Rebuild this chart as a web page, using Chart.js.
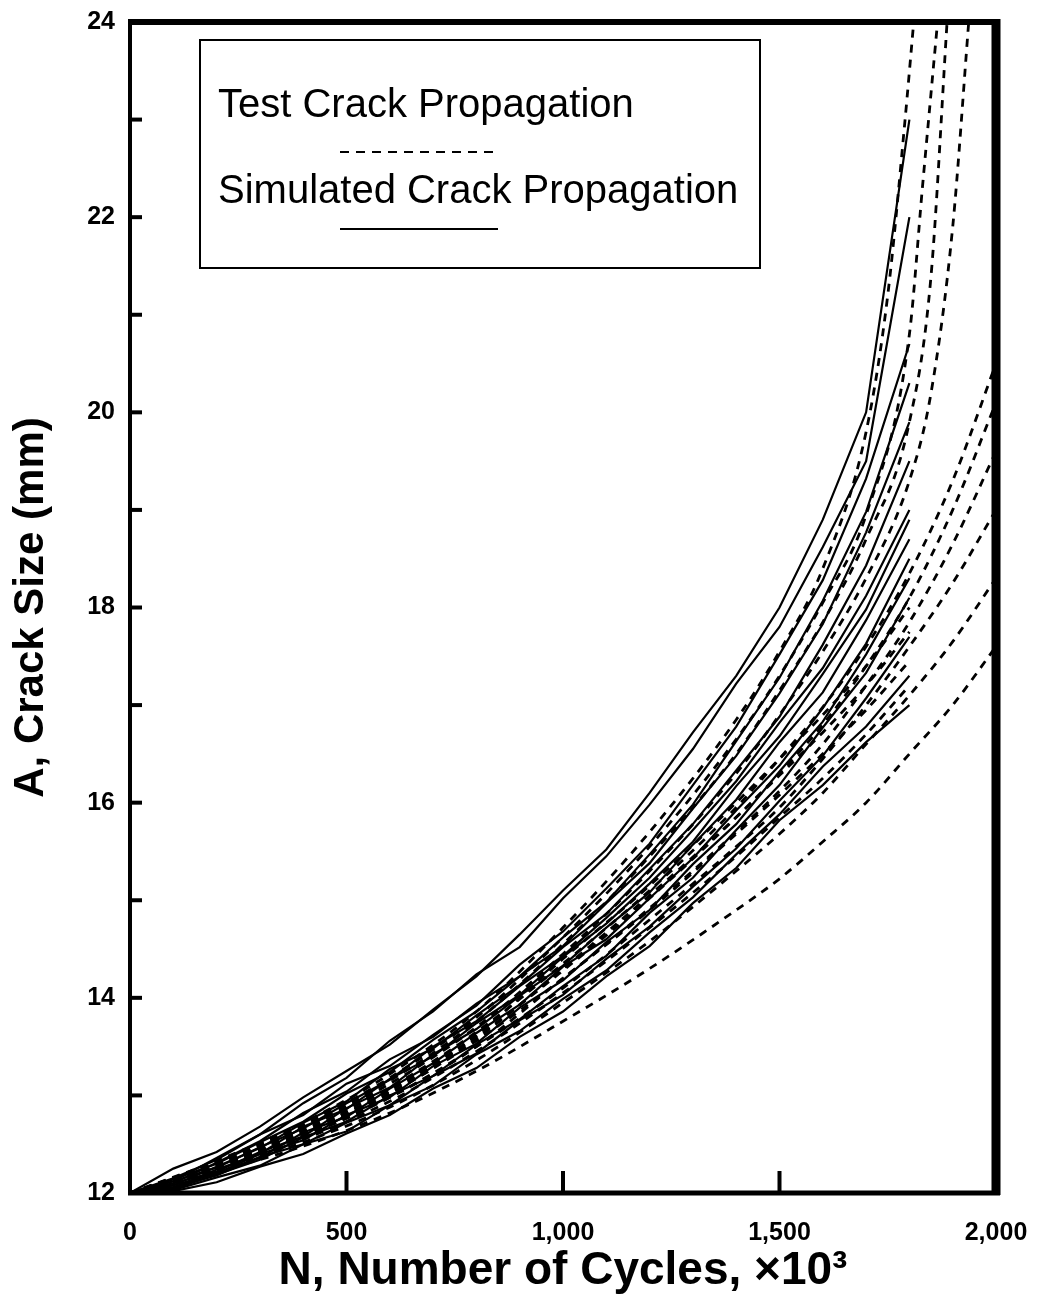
<!DOCTYPE html>
<html>
<head>
<meta charset="utf-8">
<script src="https://cdn.jsdelivr.net/npm/chart.js@4.4.1/dist/chart.umd.min.js"></script>
<style>
  html, body { margin: 0; padding: 0; background: #fff; }
  canvas { display: block; }
</style>
</head>
<body>
<canvas id="crackChart" width="1052" height="1301"></canvas>
<script>
'use strict';

// axis ranges and tick marks
const cycleRange = [0, 2000];
const crackRange = [12, 24];
const xTickMarks = [500, 1000, 1500];
const yTickMarks = [13, 14, 15, 16, 17, 18, 19, 20, 21, 22, 23];

const legendLabels = ['Test Crack Propagation', 'Simulated Crack Propagation'];

// dashed curves (x in thousands of cycles)
const testCycles = [0, 200, 400, 600, 800, 1000, 1200, 1400, 1500, 1600, 1700, 1800, 1900, 2000];
const testCycles07 = [0, 200, 400, 600, 800, 1000, 1200, 1400, 1500, 1600, 1700, 1800, 1850, 1900, 1937];
const testCycles08 = [0, 200, 400, 600, 800, 1000, 1200, 1400, 1500, 1600, 1700, 1800, 1850, 1887];
const testCycles09 = [0, 200, 400, 600, 800, 1000, 1200, 1400, 1500, 1600, 1700, 1800, 1830, 1865];
const testCycles10 = [0, 200, 400, 600, 800, 1000, 1200, 1400, 1500, 1600, 1700, 1750, 1790, 1810];

const test01 = [12, 12.22, 12.48, 12.82, 13.25, 13.76, 14.3, 14.9, 15.22, 15.6, 16.0, 16.5, 17.0, 17.6];
const test02 = [12, 12.24, 12.52, 12.88, 13.36, 13.95, 14.58, 15.3, 15.68, 16.1, 16.6, 17.1, 17.65, 18.3];
const test03 = [12, 12.26, 12.58, 12.98, 13.5, 14.1, 14.8, 15.55, 15.95, 16.45, 17.0, 17.6, 18.25, 19.0];
const test04 = [12, 12.27, 12.6, 13.02, 13.56, 14.2, 14.92, 15.7, 16.12, 16.6, 17.2, 17.85, 18.65, 19.6];
const test05 = [12, 12.28, 12.62, 13.05, 13.6, 14.28, 15.02, 15.85, 16.3, 16.8, 17.4, 18.1, 19.0, 20.1];
const test06 = [12, 12.29, 12.64, 13.08, 13.65, 14.35, 15.1, 15.95, 16.45, 16.98, 17.6, 18.35, 19.3, 20.5];
const test07 = [12, 12.3, 12.66, 13.12, 13.7, 14.45, 15.3, 16.3, 16.9, 17.55, 18.3, 19.3, 20.2, 21.9, 24];
const test08 = [12, 12.31, 12.68, 13.15, 13.76, 14.55, 15.45, 16.5, 17.15, 17.85, 18.7, 19.9, 21.4, 24];
const test09 = [12, 12.32, 12.7, 13.18, 13.8, 14.62, 15.55, 16.65, 17.3, 18.05, 18.95, 20.8, 22.3, 24];
const test10 = [12, 12.33, 12.72, 13.22, 13.86, 14.72, 15.7, 16.85, 17.55, 18.4, 19.8, 21.2, 23.0, 24];
const test11 = [12, 12.28, 12.62, 13.05, 13.62, 14.4, 15.15, 16.0, 16.45, 16.9, 17.4, 18.0];
const test12 = [12, 12.27, 12.6, 13.02, 13.58, 14.3, 15.05, 15.85, 16.28, 16.72, 17.2, 17.75];
const test13 = [12, 12.26, 12.58, 12.98, 13.5, 14.2, 14.9, 15.68, 16.08, 16.5, 16.95, 17.45];
const test14 = [12, 12.25, 12.55, 12.94, 13.45, 14.05, 14.72, 15.45, 15.85, 16.25, 16.7, 17.2];

// solid curves
const simCycles = [0, 100, 200, 300, 400, 500, 600, 700, 800, 900, 1000, 1100, 1200, 1300, 1400, 1500, 1600, 1700, 1800];

const sim01 = [12, 12.25, 12.42, 12.68, 12.98, 13.25, 13.52, 13.88, 14.22, 14.65, 15.1, 15.52, 16.1, 16.72, 17.3, 18.0, 18.9, 20.0, 23.0];
const sim02 = [12, 12.12, 12.36, 12.6, 12.92, 13.18, 13.56, 13.86, 14.24, 14.52, 15.02, 15.45, 15.98, 16.55, 17.22, 17.8, 18.62, 19.5, 22.0];
const sim03 = [12, 12.15, 12.34, 12.6, 12.8, 13.12, 13.3, 13.62, 13.92, 14.34, 14.68, 15.12, 15.58, 16.18, 16.78, 17.52, 18.28, 19.32, 20.7];
const sim04 = [12, 12.1, 12.31, 12.53, 12.82, 13.04, 13.37, 13.6, 13.94, 14.22, 14.62, 14.98, 15.47, 15.98, 16.63, 17.28, 18.07, 18.98, 20.3];
const sim05 = [12, 12.14, 12.3, 12.52, 12.73, 13.02, 13.24, 13.57, 13.86, 14.22, 14.53, 14.97, 15.38, 15.94, 16.48, 17.12, 17.83, 18.77, 19.9];
const sim06 = [12, 12.08, 12.27, 12.46, 12.72, 12.94, 13.27, 13.48, 13.82, 14.13, 14.52, 14.86, 15.32, 15.78, 16.33, 16.88, 17.62, 18.43, 19.5];
const sim07 = [12, 12.12, 12.26, 12.47, 12.66, 12.92, 13.16, 13.5, 13.76, 14.12, 14.43, 14.82, 15.23, 15.72, 16.22, 16.82, 17.38, 18.12, 19.0];
const sim08 = [12, 12.05, 12.24, 12.4, 12.68, 12.86, 13.17, 13.4, 13.74, 14.03, 14.42, 14.76, 15.17, 15.6, 16.17, 16.68, 17.32, 17.98, 18.9];
const sim09 = [12, 12.1, 12.22, 12.42, 12.58, 12.87, 13.08, 13.42, 13.68, 14.02, 14.33, 14.72, 15.08, 15.57, 16.03, 16.62, 17.13, 17.87, 18.7];
const sim10 = [12, 12.06, 12.21, 12.36, 12.62, 12.78, 13.07, 13.33, 13.64, 13.93, 14.32, 14.6, 15.02, 15.43, 15.92, 16.38, 16.97, 17.63, 18.5];
const sim11 = [12, 12.08, 12.2, 12.4, 12.54, 12.8, 12.98, 13.3, 13.53, 13.9, 14.18, 14.57, 14.9, 15.37, 15.78, 16.32, 16.83, 17.52, 18.3];
const sim12 = [12, 12.04, 12.19, 12.34, 12.57, 12.73, 13.0, 13.2, 13.52, 13.78, 14.12, 14.43, 14.87, 15.23, 15.72, 16.18, 16.77, 17.33, 18.1];
const sim13 = [12, 12.06, 12.18, 12.37, 12.5, 12.72, 12.9, 13.2, 13.43, 13.77, 14.03, 14.4, 14.73, 15.14, 15.53, 16.02, 16.48, 17.07, 17.7];
const sim14 = [12, 12.03, 12.16, 12.28, 12.5, 12.63, 12.9, 13.1, 13.42, 13.66, 13.99, 14.28, 14.67, 15.03, 15.47, 15.88, 16.37, 16.78, 17.3];
const sim15 = [12, 12.02, 12.11, 12.27, 12.4, 12.61, 12.8, 13.07, 13.28, 13.6, 13.86, 14.22, 14.53, 14.97, 15.33, 15.82, 16.18, 16.62, 17.0];

const FONT = '"Liberation Sans", Arial, Helvetica, sans-serif';

function toPoints(xs, ys) {
    return ys.map((y, i) => ({ x: xs[i], y: y }));
}

function dashedSet(xs, ys) {
    return {
        data: toPoints(xs, ys),
        borderColor: '#000',
        borderWidth: 2.8,
        borderDash: [8, 7],
        cubicInterpolationMode: 'monotone',
        pointRadius: 0
    };
}

function solidSet(ys) {
    return {
        data: toPoints(simCycles, ys),
        borderColor: '#000',
        borderWidth: 2.2,
        tension: 0,
        pointRadius: 0
    };
}

const datasets = [
    dashedSet(testCycles, test01), dashedSet(testCycles, test02), dashedSet(testCycles, test03),
    dashedSet(testCycles, test04), dashedSet(testCycles, test05), dashedSet(testCycles, test06),
    dashedSet(testCycles07, test07), dashedSet(testCycles08, test08), dashedSet(testCycles09, test09),
    dashedSet(testCycles10, test10), dashedSet(testCycles, test11), dashedSet(testCycles, test12),
    dashedSet(testCycles, test13), dashedSet(testCycles, test14),
    solidSet(sim01), solidSet(sim02), solidSet(sim03), solidSet(sim04), solidSet(sim05),
    solidSet(sim06), solidSet(sim07), solidSet(sim08), solidSet(sim09), solidSet(sim10),
    solidSet(sim11), solidSet(sim12), solidSet(sim13), solidSet(sim14), solidSet(sim15)
];

// frame, inward ticks and the boxed key
const framePlugin = {
    id: 'frame',
    afterDatasetsDraw(chart) {
        const { ctx, chartArea: a, scales: { x, y } } = chart;
        ctx.save();
        ctx.strokeStyle = '#000';
        ctx.setLineDash([]);
        const line = (x1, y1, x2, y2, w) => {
            ctx.lineWidth = w;
            ctx.beginPath();
            ctx.moveTo(x1, y1);
            ctx.lineTo(x2, y2);
            ctx.stroke();
        };
        yTickMarks.forEach(v => {
            const py = y.getPixelForValue(v);
            line(a.left, py, a.left + 12, py, 4);
        });
        xTickMarks.forEach(v => {
            const px = x.getPixelForValue(v);
            line(px, a.bottom, px, a.bottom - 22, 4);
        });
        line(a.left, a.top - 3, a.left, a.bottom + 2, 4);
        line(a.left - 2, a.bottom, a.right + 4, a.bottom, 5);
        line(a.left - 2, a.top, a.right + 4, a.top, 6);
        line(a.right, a.top - 3, a.right, a.bottom + 2, 9);
        ctx.restore();
    },
    afterDraw(chart) {
        const { ctx } = chart;
        ctx.save();
        ctx.fillStyle = '#fff';
        ctx.fillRect(200, 40, 560, 228);
        ctx.strokeStyle = '#000';
        ctx.lineWidth = 2;
        ctx.strokeRect(200, 40, 560, 228);
        ctx.fillStyle = '#000';
        ctx.font = '40px ' + FONT;
        ctx.textBaseline = 'alphabetic';
        ctx.textAlign = 'left';
        ctx.fillText(legendLabels[0], 218, 117);
        ctx.fillText(legendLabels[1], 218, 203);
        ctx.lineWidth = 2;
        ctx.setLineDash([9, 7]);
        ctx.beginPath();
        ctx.moveTo(340, 152);
        ctx.lineTo(496, 152);
        ctx.stroke();
        ctx.setLineDash([]);
        ctx.beginPath();
        ctx.moveTo(340, 229);
        ctx.lineTo(498, 229);
        ctx.stroke();
        ctx.restore();
    }
};

new Chart(document.getElementById('crackChart'), {
    type: 'line',
    data: { datasets: datasets },
    options: {
        responsive: false,
        animation: false,
        events: [],
        layout: { padding: { top: 14, right: 56, left: 0, bottom: 0 } },
        plugins: {
            legend: { display: false },
            tooltip: { enabled: false }
        },
        scales: {
            x: {
                type: 'linear',
                min: cycleRange[0],
                max: cycleRange[1],
                grid: { display: false },
                border: { display: false },
                ticks: {
                    stepSize: 500,
                    padding: 17,
                    maxRotation: 0,
                    color: '#000',
                    font: { family: FONT, size: 25, weight: 'bold' },
                    callback: v => v.toLocaleString('en-US')
                },
                title: {
                    display: true,
                    text: 'N, Number of Cycles, \u00d710\u00b3',
                    color: '#000',
                    font: { family: FONT, size: 46, weight: 'bold' },
                    padding: { top: 0, bottom: 2 }
                },
                afterFit: s => { s.height = 108; }
            },
            y: {
                type: 'linear',
                min: crackRange[0],
                max: crackRange[1],
                grid: { display: false },
                border: { display: false },
                ticks: {
                    stepSize: 2,
                    padding: 7,
                    color: '#000',
                    font: { family: FONT, size: 25, weight: 'bold' }
                },
                title: {
                    display: true,
                    text: 'A, Crack Size (mm)',
                    color: '#000',
                    font: { family: FONT, size: 42, weight: 'bold' },
                    padding: { top: 6, bottom: 0 }
                },
                afterFit: s => { s.width = 130; }
            }
        }
    },
    plugins: [framePlugin]
});
</script>
</body>
</html>
